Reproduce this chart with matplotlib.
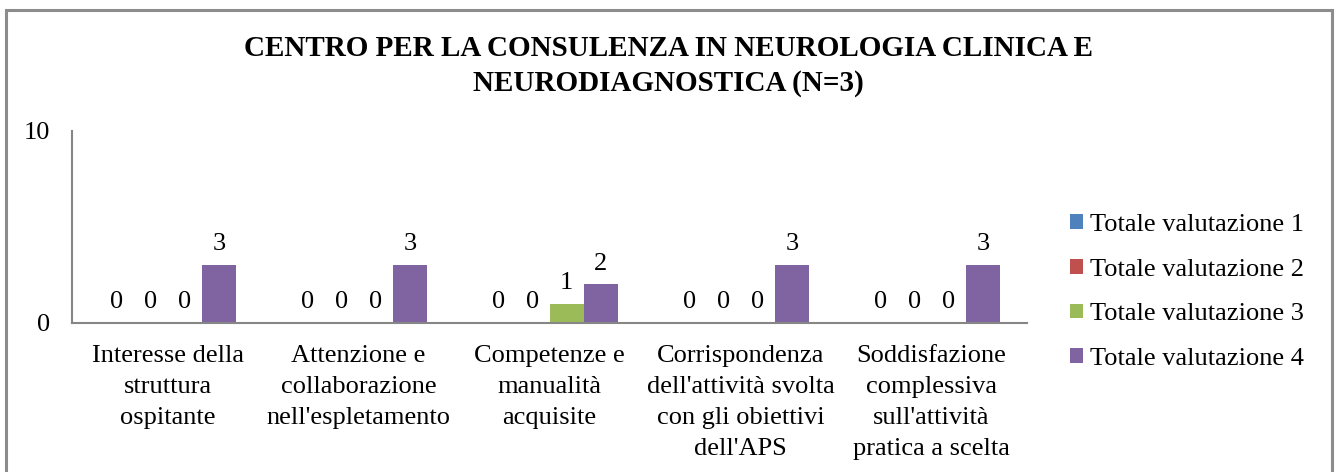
import matplotlib
matplotlib.use("Agg")
import matplotlib.pyplot as plt
import numpy as np
from matplotlib.patches import Rectangle

categories = ["Interesse della\nstruttura\nospitante",
              "Attenzione e\ncollaborazione\nnell'espletamento",
              "Competenze e\nmanualità\nacquisite",
              "Corrispondenza\ndell'attività svolta\ncon gli obiettivi\ndell'APS",
              "Soddisfazione\ncomplessiva\nsull'attività\npratica a scelta"]
series_names = ["Totale valutazione 1", "Totale valutazione 2",
                "Totale valutazione 3", "Totale valutazione 4"]
val1 = [0, 0, 0, 0, 0]
val2 = [0, 0, 0, 0, 0]
val3 = [0, 0, 1, 0, 0]
val4 = [3, 3, 2, 3, 3]
colors = ["#4F81BD", "#C0504D", "#9BBB59", "#8064A2"]
title = "CENTRO PER LA CONSULENZA IN NEUROLOGIA CLINICA E\nNEURODIAGNOSTICA (N=3)"

plt.rcParams['font.family'] = ['Liberation Serif', 'DejaVu Serif']

W, H = 1339, 472
FS = 19
fig = plt.figure(figsize=(W / 100, H / 100), dpi=100)
ax = fig.add_axes([72 / W, 1 - 322.7 / H, (1027 - 72) / W, (322.7 - 131) / H])

x = np.arange(len(categories))
w = 0.179
allvals = [val1, val2, val3, val4]
for i, (vals, c, name) in enumerate(zip(allvals, colors, series_names)):
    pos = x + (i - 1.5) * w
    ax.bar(pos, vals, width=w, color=c, label=name, zorder=2)
    for p, v in zip(pos, vals):
        ax.annotate(str(v), (p, v), xytext=(0, 7), textcoords="offset points",
                    ha="center", va="bottom", fontsize=FS)

ax.set_xlim(-0.5, len(categories) - 0.5)
ax.set_ylim(0, 10)
ax.set_yticks([0, 10])
ax.set_yticklabels(["0", "10"], fontsize=FS)
ax.set_xticks(x)
ax.set_xticklabels(categories, fontsize=FS, linespacing=1.53)
ax.tick_params(axis="both", length=0)
ax.tick_params(axis="y", pad=16)
ax.tick_params(axis="x", pad=16)
for s in ["top", "right"]:
    ax.spines[s].set_visible(False)
for s in ["left", "bottom"]:
    ax.spines[s].set_color("#868686")
    ax.spines[s].set_linewidth(1.5)

fig.text(668 / W, 1 - 66 / H, title, ha="center", va="center",
         fontsize=21, fontweight="bold", linespacing=1.32)

leg = fig.legend(loc="center left", bbox_to_anchor=(1070 / W, 1 - 292 / H),
                 frameon=False, fontsize=FS, handlelength=0.49, handleheight=0.49,
                 handletextpad=0.27, labelspacing=0.86, borderpad=0, borderaxespad=0)

fig.add_artist(Rectangle((6 / W, -0.1), (1332 - 6) / W, 1.1 - 10 / H,
                         transform=fig.transFigure, fill=False,
                         edgecolor="#8c8c8c", linewidth=2.2, clip_on=False))

fig.savefig("out.png", dpi=100)
